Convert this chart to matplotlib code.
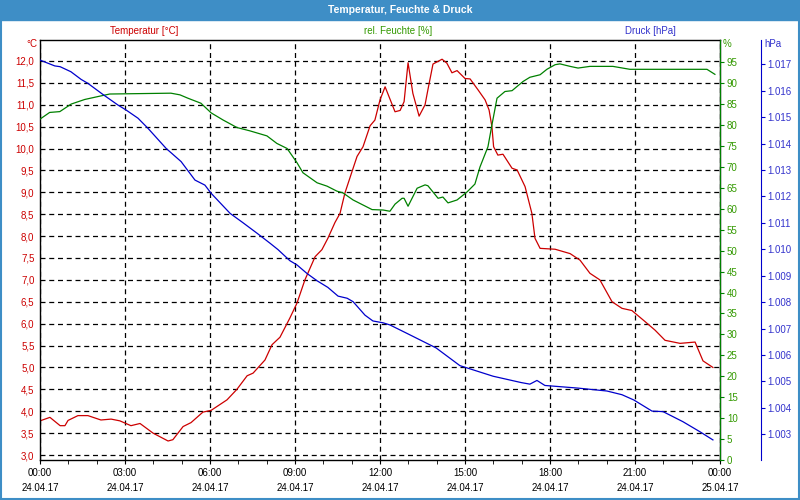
import matplotlib
matplotlib.use('Agg')
import matplotlib.pyplot as plt
from matplotlib.patches import Rectangle
from matplotlib.ticker import FuncFormatter, MultipleLocator

plt.rcParams['font.family'] = ['Liberation Sans', 'DejaVu Sans']

# Stunden ab 24.04.17 00:00
temp_h = [0.0, 0.35, 0.71, 0.88, 0.99, 1.34, 1.69, 2.15, 2.51, 2.82, 3.21, 3.53, 3.99,
          4.52, 4.69, 5.05, 5.33, 5.75, 6.04, 6.60, 6.95, 7.31, 7.52, 7.94, 8.19, 8.47,
          8.82, 9.07, 9.35, 9.71, 9.95, 10.16, 10.41, 10.59, 10.76, 11.01, 11.19, 11.40,
          11.65, 11.82, 12.0, 12.18, 12.53, 12.71, 12.85, 12.99, 13.16, 13.38, 13.59,
          13.69, 13.87, 14.19, 14.36, 14.54, 14.72, 15.0, 15.18, 15.46, 15.71, 15.85,
          15.95, 16.01, 16.16, 16.34, 16.66, 16.84, 17.12, 17.36, 17.47, 17.65, 18.18,
          18.71, 19.06, 19.41, 19.76, 20.19, 20.54, 20.89, 21.35, 21.71, 22.06, 22.59,
          23.12, 23.40, 23.75]
temp_c = [3.78, 3.86, 3.67, 3.67, 3.79, 3.90, 3.90, 3.80, 3.82, 3.78, 3.67, 3.72, 3.50,
          3.32, 3.35, 3.65, 3.74, 3.98, 4.02, 4.26, 4.50, 4.81, 4.87, 5.17, 5.52, 5.69,
          6.13, 6.47, 7.00, 7.53, 7.69, 7.95, 8.31, 8.52, 8.98, 9.47, 9.82, 10.04,
          10.52, 10.65, 11.11, 11.41, 10.84, 10.87, 11.07, 11.96, 11.26, 10.74, 11.00,
          11.34, 11.93, 12.04, 11.95, 11.73, 11.78, 11.60, 11.59, 11.34, 11.11, 10.88,
          10.50, 10.04, 9.85, 9.87, 9.55, 9.51, 9.13, 8.52, 7.95, 7.72, 7.70,
          7.60, 7.45, 7.15, 7.00, 6.50, 6.35, 6.30, 6.05, 5.85, 5.62, 5.55,
          5.58, 5.15, 5.00]

hum_h = [0.0, 0.34, 0.70, 1.10, 1.58, 2.05, 2.46, 4.62, 4.94, 5.22, 5.68, 6.04, 6.46,
         6.95, 7.41, 8.01, 8.36, 8.72, 9.07, 9.28, 9.78, 10.13, 10.48, 10.69, 11.05,
         11.72, 12.11, 12.35, 12.53, 12.78, 12.85, 12.99, 13.31, 13.59, 13.69, 14.05,
         14.22, 14.40, 14.72, 15.07, 15.35, 15.53, 15.81, 15.95, 16.13, 16.41, 16.66,
         17.05, 17.29, 17.65, 17.89, 18.18, 18.35, 18.71, 18.99, 19.41, 20.22, 20.82,
         23.54, 23.82]
hum_pct = [81.4, 83.0, 83.2, 85.0, 86.1, 86.8, 87.4, 87.6, 87.2, 86.4, 85.2, 82.9, 81.2,
           79.4, 78.6, 77.4, 75.6, 74.4, 71.0, 68.6, 66.2, 65.4, 64.2, 63.8, 62.1,
           59.8, 59.7, 59.4, 61.1, 62.5, 62.5, 60.6, 64.9, 65.7, 65.5, 62.5,
           62.8, 61.4, 62.1, 64.0, 65.9, 70.0, 74.8, 80.0, 86.4, 88.0, 88.2,
           90.4, 91.4, 92.0, 93.3, 94.4, 94.6, 94.0, 93.6, 94.0, 94.0, 93.3,
           93.3, 92.1]

pres_h = [0.0, 0.52, 0.71, 1.09, 1.45, 1.69, 2.22, 2.75, 3.04, 3.46, 3.81, 4.45, 4.98,
          5.47, 5.82, 6.04, 6.71, 7.16, 7.66, 8.12, 8.40, 8.82, 9.07, 9.42, 9.78, 10.16,
          10.52, 10.84, 11.05, 11.47, 11.75, 12.11, 12.35, 12.99, 13.98, 14.82, 15.99,
          16.98, 17.29, 17.54, 17.82, 18.99, 20.01, 20.54, 20.96, 21.60, 21.99, 22.69,
          23.29, 23.75]
pres_hpa = [1.01716, 1.01694, 1.01691, 1.01672, 1.01643, 1.01628, 1.01586, 1.01546,
            1.01527, 1.01496, 1.01458, 1.01382, 1.01332, 1.01262, 1.01243, 1.01212,
            1.01136, 1.01101, 1.01061, 1.01023, 1.00999, 1.00957, 1.00941, 1.00909,
            1.00881, 1.00856, 1.00823, 1.00815, 1.00802, 1.00751, 1.00729, 1.00722,
            1.00714, 1.00680, 1.00627, 1.00560, 1.00520, 1.00496, 1.00490, 1.00504,
            1.00485, 1.00475, 1.00464, 1.00450, 1.00430, 1.00388, 1.00386, 1.00348,
            1.00310, 1.00279]

xtick_times = ['00:00', '03:00', '06:00', '09:00', '12:00', '15:00', '18:00', '21:00', '00:00']
xtick_dates = ['24.04.17'] * 8 + ['25.04.17']

red = '#cc0000'
green = '#008000'
blue = '#0000cc'
bar = '#3e8ec6'
fs = 7

fig = plt.figure(figsize=(8, 5), dpi=100)
ax1 = fig.add_axes([0.05, 0.08, 0.85, 0.84])
ax2 = ax1.twinx()
ax3 = ax1.twinx()

ax1.plot(temp_h, temp_c, color=red, lw=0.9)
ax2.plot(hum_h, hum_pct, color=green, lw=0.9)
ax3.plot(pres_h, pres_hpa, color=blue, lw=0.9)

ax1.set_xlim(0, 24)
ax1.set_ylim(2.886, 12.479)
ax2.set_ylim(0, 100.3)
ax3.set_ylim(1.00203, 1.01792)

ax1.set_xticks(range(0, 25, 3))
ax1.set_xticklabels([t + '\n' + d for t, d in zip(xtick_times, xtick_dates)],
                    fontsize=fs, linespacing=1.55)
ax1.xaxis.set_minor_locator(MultipleLocator(1))
ax1.tick_params(axis='x', which='both', direction='out', length=3, pad=3)
ax1.set_yticks([3.0 + 0.5 * i for i in range(19)])
ax1.yaxis.set_major_formatter(FuncFormatter(lambda v, p: f'{v:.1f}'.replace('.', ',')))
ax1.tick_params(axis='y', length=0, pad=4, labelsize=fs, labelcolor=red)
ax1.grid(True, color='black', linestyle=(0, (4, 3)), linewidth=0.9)
for s in ax1.spines.values():
    s.set_linewidth(1.0)

ax2.set_yticks(range(0, 96, 5))
ax2.tick_params(axis='y', colors=green, labelcolor='#339900', length=3, pad=2, labelsize=fs)
ax2.spines['right'].set_color(green)
for s in ['left', 'top', 'bottom']:
    ax2.spines[s].set_visible(False)

ax3.set_yticks([1.003 + 0.001 * i for i in range(15)])
ax3.yaxis.set_major_formatter(FuncFormatter(lambda v, p: f'{v:.3f}'))
ax3.spines['right'].set_position(('axes', 1.06))
ax3.spines['right'].set_color(blue)
ax3.tick_params(axis='y', colors=blue, labelcolor='#3333cc', length=3, pad=2, labelsize=fs)
for s in ['left', 'top', 'bottom']:
    ax3.spines[s].set_visible(False)

# Titelleiste und Rahmen
fig.patches.append(Rectangle((0, 1 - 20 / 500), 1, 20 / 500, transform=fig.transFigure,
                             color=bar, zorder=0))
fig.patches.append(Rectangle((0.001, 0.002), 0.998, 0.996, transform=fig.transFigure,
                             fill=False, edgecolor=bar, lw=1.5))
fig.text(0.5, 1 - 10 / 500, 'Temperatur, Feuchte & Druck', color='white',
         fontsize=7.5, fontweight='bold', ha='center', va='center')

fig.text(144 / 800, 1 - 31 / 500, 'Temperatur [°C]', color=red, fontsize=fs, ha='center', va='center')
fig.text(398 / 800, 1 - 31 / 500, 'rel. Feuchte [%]', color='#339900', fontsize=fs, ha='center', va='center')
fig.text(650 / 800, 1 - 31 / 500, 'Druck [hPa]', color='#3333cc', fontsize=fs, ha='center', va='center')
fig.text(37 / 800, 1 - 44 / 500, '°C', color=red, fontsize=fs, ha='right', va='center')
fig.text(723 / 800, 1 - 44 / 500, '%', color='#339900', fontsize=fs, ha='left', va='center')
fig.text(764 / 800, 1 - 44 / 500, 'hPa', color='#3333cc', fontsize=fs, ha='left', va='center')

fig.savefig('out.png', dpi=100)
